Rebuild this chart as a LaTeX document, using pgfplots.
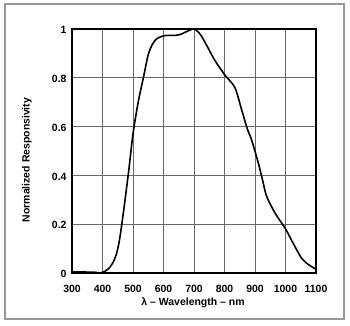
\documentclass[border=0pt]{standalone}
\usepackage{fontspec}
\setmainfont{Liberation Sans}
\usepackage{pgfplots}
\pgfplotsset{compat=1.18}
\begin{document}
\begin{tikzpicture}[x=1bp,y=1bp]
\useasboundingbox (-72,-53) rectangle (278,273);
\draw[line width=1.6bp, color=black!40] (-67,-46) rectangle (272,269);
\begin{axis}[
  at={(0,0)}, anchor=south west,
  width=244bp, height=244bp, scale only axis,
  xmin=300, xmax=1100, ymin=0, ymax=1,
  xtick={300,400,...,1100}, ytick={0,0.2,0.4,0.6,0.8,1},
  yticklabels={0,0.2,0.4,0.6,0.8,1},
  xticklabel style={font=\fontsize{10.5}{12}\selectfont\bfseries, anchor=center, yshift=-16bp},
  yticklabel style={font=\fontsize{10.5}{12}\selectfont\bfseries, anchor=east, xshift=-2bp, yshift=-1bp},
  /pgf/number format/assume math mode=true,
  /pgf/number format/1000 sep={},
  major tick length=0pt,
  grid=major,
  major grid style={line width=0.8bp, color=black!60},
  axis line style={line width=1.1bp},
  xlabel={\fontsize{10.5}{12}\selectfont\bfseries λ – Wavelength – nm},
  ylabel={\fontsize{10.5}{12}\selectfont\bfseries Normalized Responsivity},
  xlabel style={at={(axis description cs:0.496,-0.123)}, anchor=center},
  ylabel style={at={(axis description cs:-0.185,0.463)}, anchor=center},
]
\addplot[line width=1.6bp, smooth, tension=0.5] coordinates {
(300,0.004) (340,0.004) (375,0.003) (392,0.0) (405,0.005) (420,0.018) (433,0.04)
(445,0.075) (455,0.13) (465,0.215) (475,0.31) (487,0.43) (500,0.57) (517,0.70) (534,0.80)
(550,0.895) (565,0.94) (580,0.962) (605,0.973) (640,0.974) (660,0.980)
(680,0.992) (698,1.0) (712,0.99) (725,0.97) (745,0.925) (769,0.87) (802,0.81)
(834,0.76) (856,0.67) (875,0.59) (889,0.545) (911,0.45) (925,0.38) (938,0.315)
(966,0.245) (998,0.185) (1026,0.12) (1053,0.06) (1075,0.035) (1100,0.015)
};
\end{axis}
\end{tikzpicture}
\end{document}
